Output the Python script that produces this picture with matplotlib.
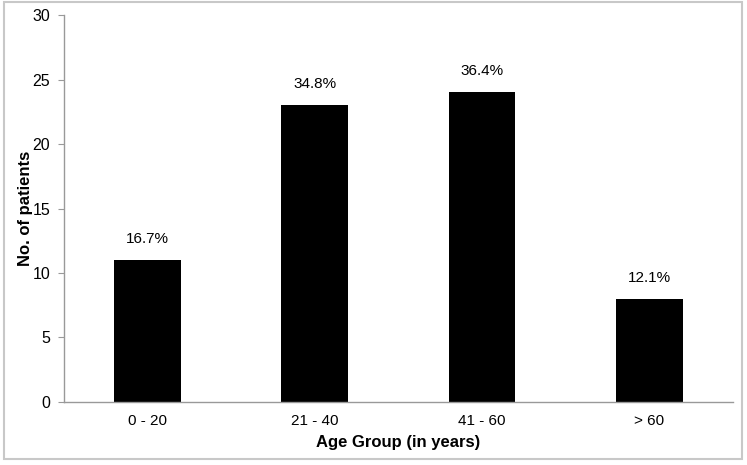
import matplotlib
matplotlib.use('Agg')
import matplotlib.pyplot as plt
from matplotlib.patches import Rectangle

categories = ['0 - 20', '21 - 40', '41 - 60', '> 60']
patients = [11, 23, 24, 8]
percent_labels = ['16.7%', '34.8%', '36.4%', '12.1%']
y_ticks = [0, 5, 10, 15, 20, 25, 30]

plt.rcParams['font.family'] = ['Liberation Sans', 'DejaVu Sans']

fig = plt.figure(figsize=(7.47, 4.65), dpi=100)
ax = fig.add_axes([0.0857, 0.1355, 0.8953, 0.8322])

x = range(len(categories))
bars = ax.bar(x, patients, width=0.4, color='black')
for bar, lab in zip(bars, percent_labels):
    ax.text(bar.get_x() + bar.get_width() / 2, bar.get_height() + 1.1, lab,
            ha='center', va='bottom', fontsize=11)

ax.set_xlim(-0.5, len(categories) - 0.5)
ax.set_ylim(0, 30)
ax.set_yticks(y_ticks)
ax.set_xticks(list(x))
ax.set_xticklabels(categories)
ax.tick_params(axis='x', length=0, labelsize=11, pad=9)
ax.tick_params(axis='y', length=4, color='#999999', labelsize=11.5, pad=6)

for side in ['top', 'right']:
    ax.spines[side].set_visible(False)
for side in ['left', 'bottom']:
    ax.spines[side].set_color('#999999')
    ax.spines[side].set_linewidth(1)

ax.set_xlabel('Age Group (in years)', fontsize=12, fontweight='bold', labelpad=5)
ax.set_ylabel('No. of patients', fontsize=12, fontweight='bold')
ax.yaxis.set_label_coords(-0.046, 0.5)

# gray frame around the whole figure
fig.patches.append(Rectangle((0.005, 0.012), 0.988, 0.983, transform=fig.transFigure,
                             fill=False, edgecolor='#c8c8c8', linewidth=1.5))

fig.savefig('out.png', dpi=100, facecolor='white')
